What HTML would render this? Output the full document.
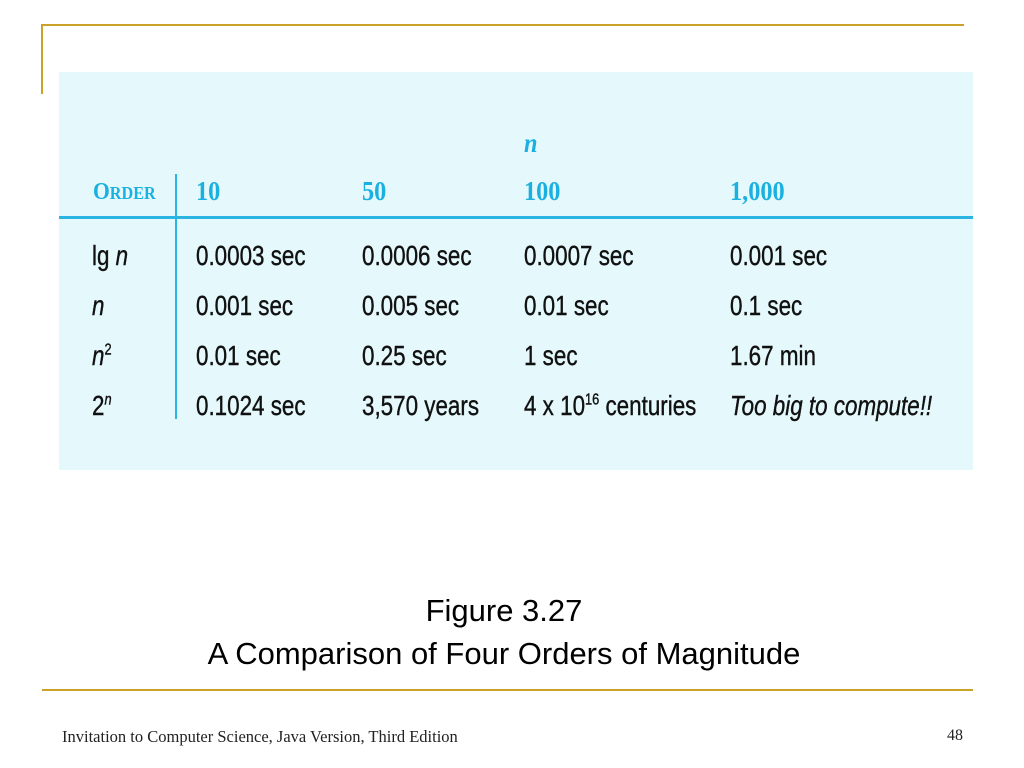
<!DOCTYPE html>
<html><head><meta charset="utf-8"><style>
body{margin:0;width:1024px;height:768px;background:#fff;position:relative;overflow:hidden;font-family:"Liberation Sans",sans-serif}
.a{position:absolute;white-space:nowrap}
.t{font-size:28px;color:#111;transform:scaleX(0.8);transform-origin:left bottom;line-height:1;-webkit-text-stroke:0.4px #111}
.h{font-family:"Liberation Serif",serif;font-weight:bold;color:#1ab0e0;font-size:27px;transform:scaleX(0.9);transform-origin:left bottom;line-height:1}
</style></head><body>
<div class="a" style="left:42px;top:24px;width:922px;height:2px;background:#c9a227"></div>
<div class="a" style="left:41px;top:24px;width:2px;height:70px;background:#c9a227"></div>
<div class="a" style="left:59px;top:72px;width:914px;height:398px;background:#e5f9fc"></div>
<div class="a" style="left:59px;top:216px;width:914px;height:3px;background:#29b4e2"></div>
<div class="a" style="left:175px;top:174px;width:2px;height:245px;background:#29b4e2"></div>
<div class="a h" style="left:524px;top:130px;font-style:italic">n</div>
<div class="a h" style="left:93px;top:180px;font-size:24px">O<span style="font-size:18px">RDER</span></div>
<div class="a h" style="left:196px;top:178px">10</div>
<div class="a h" style="left:362px;top:178px">50</div>
<div class="a h" style="left:524px;top:178px">100</div>
<div class="a h" style="left:730px;top:178px">1,000</div>

<div class="a t" style="left:92px;top:242px">lg <i>n</i></div>
<div class="a t" style="left:196px;top:242px">0.0003 sec</div>
<div class="a t" style="left:362px;top:242px">0.0006 sec</div>
<div class="a t" style="left:524px;top:242px">0.0007 sec</div>
<div class="a t" style="left:730px;top:242px">0.001 sec</div>

<div class="a t" style="left:92px;top:292px"><i>n</i></div>
<div class="a t" style="left:196px;top:292px">0.001 sec</div>
<div class="a t" style="left:362px;top:292px">0.005 sec</div>
<div class="a t" style="left:524px;top:292px">0.01 sec</div>
<div class="a t" style="left:730px;top:292px">0.1 sec</div>

<div class="a t" style="left:92px;top:342px"><i>n</i><sup style="font-size:16px">2</sup></div>
<div class="a t" style="left:196px;top:342px">0.01 sec</div>
<div class="a t" style="left:362px;top:342px">0.25 sec</div>
<div class="a t" style="left:524px;top:342px">1 sec</div>
<div class="a t" style="left:730px;top:342px">1.67 min</div>

<div class="a t" style="left:92px;top:392px">2<sup style="font-size:16px"><i>n</i></sup></div>
<div class="a t" style="left:196px;top:392px">0.1024 sec</div>
<div class="a t" style="left:362px;top:392px">3,570 years</div>
<div class="a t" style="left:524px;top:392px">4 x 10<sup style="font-size:16px">16</sup> centuries</div>
<div class="a t" style="left:730px;top:392px"><i>Too big to compute!!</i></div>

<div class="a" style="left:0;width:1008px;top:589px;text-align:center;font-size:31px;line-height:43px;color:#000">Figure 3.27<br>A Comparison of Four Orders of Magnitude</div>
<div class="a" style="left:42px;top:689px;width:931px;height:2px;background:#c9a227"></div>
<div class="a" style="left:62px;top:727px;font-family:'Liberation Serif',serif;font-size:16.5px;color:#222">Invitation to Computer Science, Java Version, Third Edition</div>
<div class="a" style="left:947px;top:727px;font-family:'Liberation Serif',serif;font-size:16px;color:#222">48</div>
</body></html>
